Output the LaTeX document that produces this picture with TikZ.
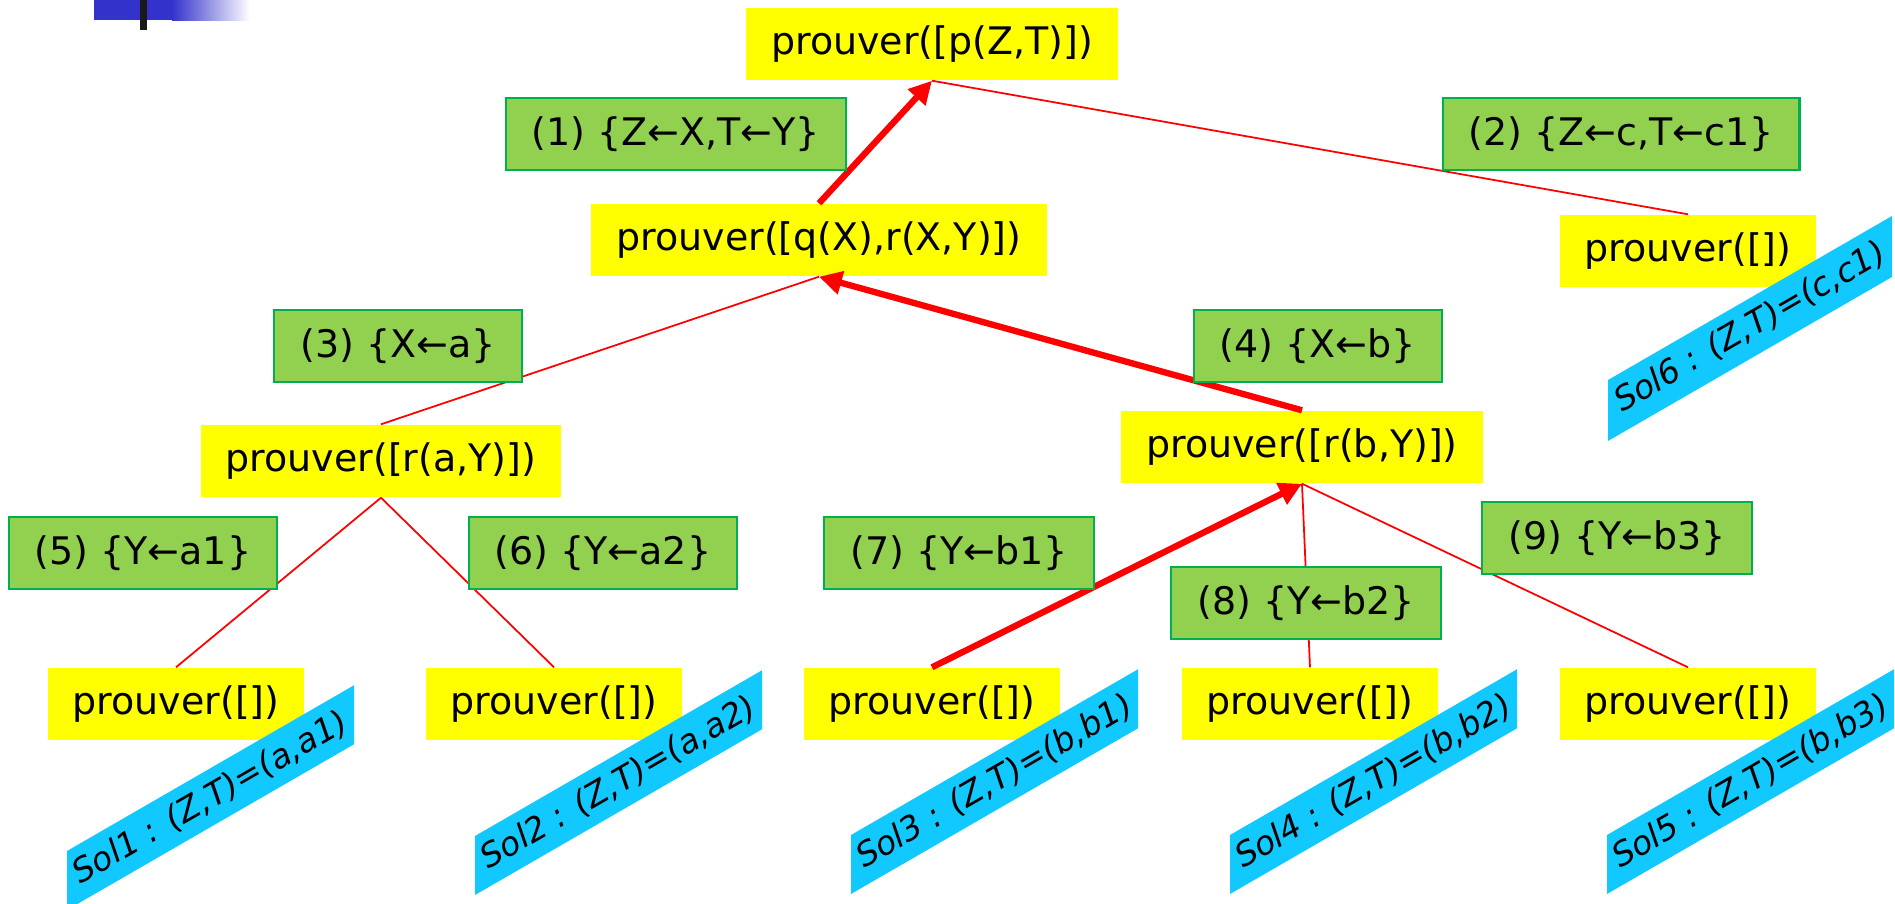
\documentclass[tikz,border=0pt]{standalone}
\usepackage{fontspec}
\setmainfont{DejaVu Sans}
\usetikzlibrary{arrows.meta}

\definecolor{goalyellow}{RGB}{255,255,0}
\definecolor{substgreen}{RGB}{146,208,80}
\definecolor{substedge}{RGB}{0,176,80}
\definecolor{solblue}{RGB}{17,201,255}
\definecolor{slideblue}{RGB}{51,51,204}

\tikzset{
    goal/.style={fill=goalyellow, minimum height=0.72cm, inner xsep=0.25cm, font=\fontsize{10.8}{13}\selectfont},
    subst/.style={fill=substgreen, draw=substedge, line width=0.6pt, minimum height=0.72cm, inner xsep=0.26cm, font=\fontsize{10.8}{13}\selectfont},
    solbox/.style={fill=solblue},
    sollabel/.style={rotate=30, inner sep=0pt, font=\fontsize{9.4}{11}\selectfont\itshape},
    branch/.style={red, line width=0.5pt},
    solved/.style={red, line width=1.8pt, ->}
}

\begin{document}
\begin{tikzpicture}[>={Triangle[length=6.5pt,width=6.5pt]}]
        \useasboundingbox (0,0) rectangle (18.95,-9.04);

        % Slide corner
        \fill[slideblue] (0.94,0) rectangle (1.72,-0.20);
        \shade[left color=slideblue, right color=white] (1.72,0) rectangle (2.50,-0.21);
        \fill[black!90] (1.40,0) rectangle (1.47,-0.30);

        % Goals
        \node[goal] (pZT) at (9.32,-0.44) {prouver([p(Z,T)])};
        \node[goal] (qXrXY) at (8.19,-2.40) {prouver([q(X),r(X,Y)])};
        \node[goal] (done6) at (16.88,-2.51) {prouver([])};
        \node[goal] (raY) at (3.81,-4.61) {prouver([r(a,Y)])};
        \node[goal] (rbY) at (13.02,-4.47) {prouver([r(b,Y)])};
        \node[goal] (done1) at (1.76,-7.04) {prouver([])};
        \node[goal] (done2) at (5.54,-7.04) {prouver([])};
        \node[goal] (done3) at (9.32,-7.04) {prouver([])};
        \node[goal] (done4) at (13.10,-7.04) {prouver([])};
        \node[goal] (done5) at (16.88,-7.04) {prouver([])};

        % Branches
        \draw[branch] (pZT.south) -- (done6.north);
        \draw[branch] (qXrXY.south) -- (raY.north);
        \draw[branch] (raY.south) -- (done1.north);
        \draw[branch] (raY.south) -- (done2.north);
        \draw[branch] (rbY.south) -- (done4.north);
        \draw[branch] (rbY.south) -- (done5.north);

        % Path back to the root
        \draw[solved] (qXrXY.north) -- (pZT.south);
        \draw[solved] (rbY.north) -- (qXrXY.south);
        \draw[solved] (done3.north) -- (rbY.south);

        % Substitutions
        \node[subst] (s1) at (6.76,-1.34) {(1) \{Z←X,T←Y\}};
        \node[subst] (s2) at (16.21,-1.34) {(2) \{Z←c,T←c1\}};
        \node[subst] (s3) at (3.98,-3.46) {(3) \{X←a\}};
        \node[subst] (s4) at (13.18,-3.46) {(4) \{X←b\}};
        \node[subst] (s5) at (1.43,-5.53) {(5) \{Y←a1\}};
        \node[subst] (s6) at (6.03,-5.53) {(6) \{Y←a2\}};
        \node[subst] (s7) at (9.59,-5.53) {(7) \{Y←b1\}};
        \node[subst] (s8) at (13.06,-6.03) {(8) \{Y←b2\}};
        \node[subst] (s9) at (16.17,-5.38) {(9) \{Y←b3\}};

        % Solutions
        \fill[solbox] (0.67,-8.51) -- ++(2.87,1.657) -- ++(0,-0.59) -- ++(-2.87,-1.657) -- cycle;
        \node[sollabel] (sol1) at (2.105,-7.977) {Sol1 : (Z,T)=(a,a1)};
        \fill[solbox] (4.75,-8.36) -- ++(2.87,1.657) -- ++(0,-0.59) -- ++(-2.87,-1.657) -- cycle;
        \node[sollabel] (sol2) at (6.185,-7.827) {Sol2 : (Z,T)=(a,a2)};
        \fill[solbox] (8.51,-8.35) -- ++(2.87,1.657) -- ++(0,-0.59) -- ++(-2.87,-1.657) -- cycle;
        \node[sollabel] (sol3) at (9.945,-7.817) {Sol3 : (Z,T)=(b,b1)};
        \fill[solbox] (12.30,-8.35) -- ++(2.87,1.657) -- ++(0,-0.59) -- ++(-2.87,-1.657) -- cycle;
        \node[sollabel] (sol4) at (13.735,-7.817) {Sol4 : (Z,T)=(b,b2)};
        \fill[solbox] (16.07,-8.35) -- ++(2.87,1.657) -- ++(0,-0.59) -- ++(-2.87,-1.657) -- cycle;
        \node[sollabel] (sol5) at (17.505,-7.817) {Sol5 : (Z,T)=(b,b3)};
        \fill[solbox] (16.08,-3.80) -- ++(2.84,1.64) -- ++(0,-0.61) -- ++(-2.84,-1.64) -- cycle;
        \node[sollabel] (sol6) at (17.50,-3.27) {Sol6 : (Z,T)=(c,c1)};
\end{tikzpicture}
\end{document}
